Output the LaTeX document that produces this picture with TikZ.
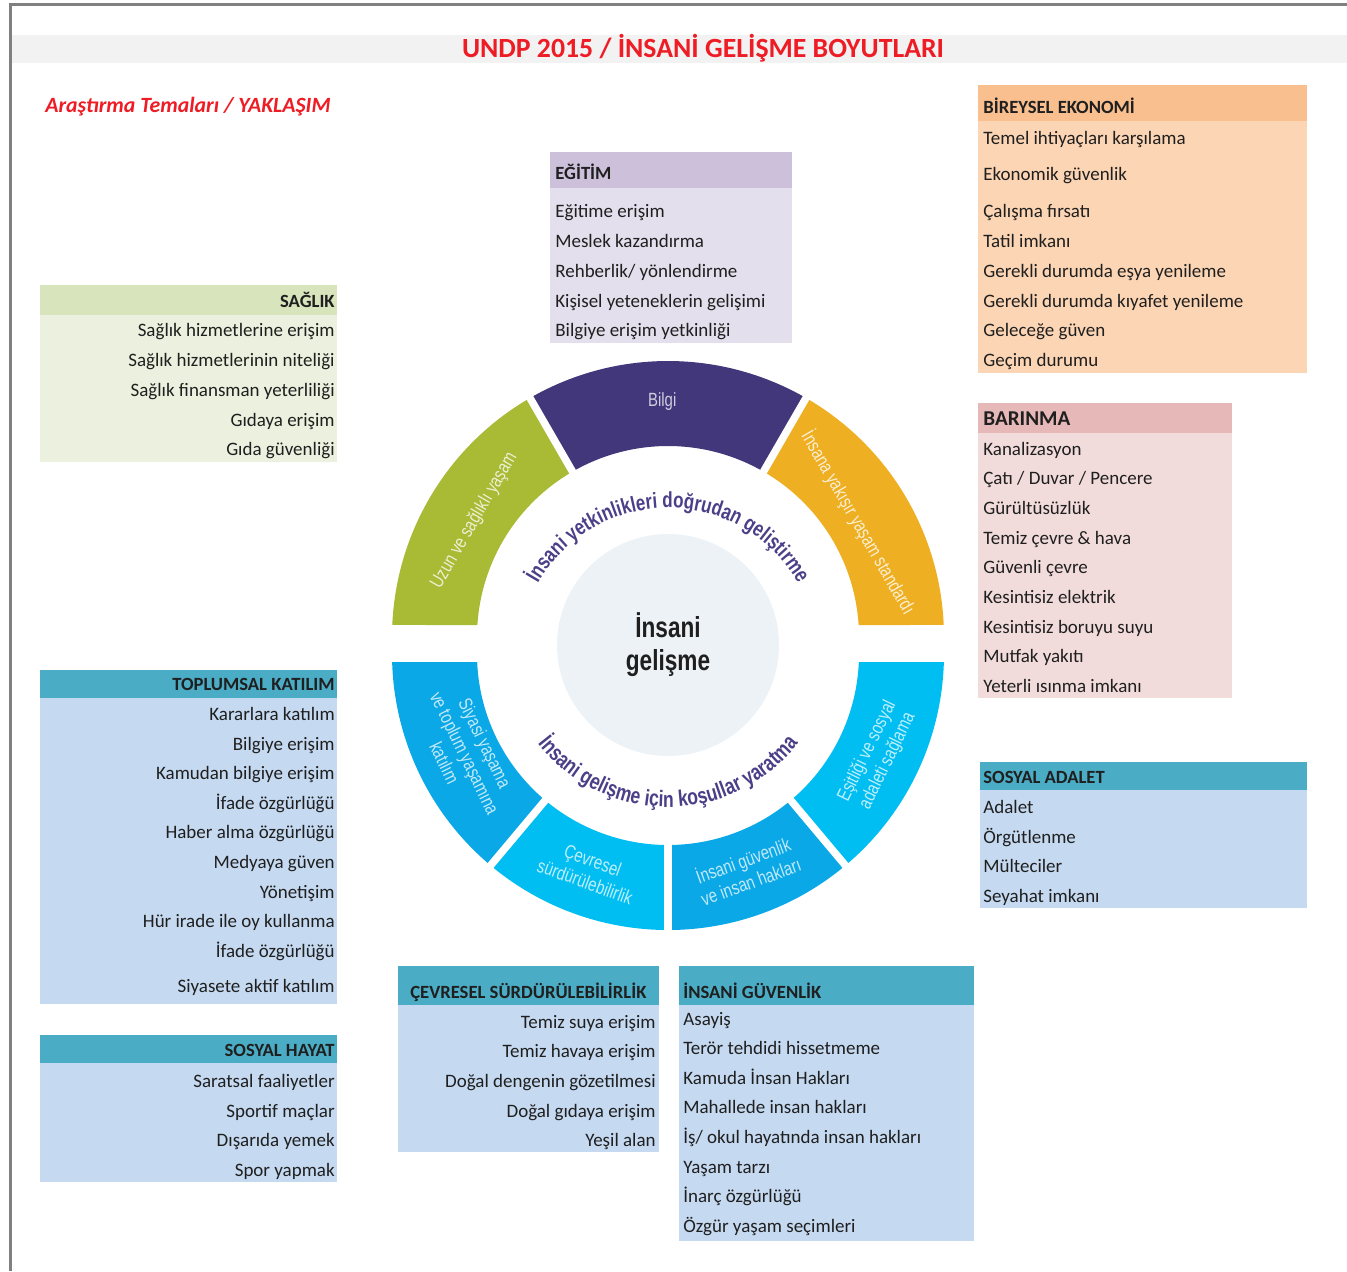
\documentclass[tikz,border=0pt]{standalone}
\usepackage{fontspec}
\setmainfont{Carlito}
\newfontfamily\ringfont[FakeStretch=0.78]{Liberation Sans}
\usepackage{tikz}
\usetikzlibrary{calc,positioning,decorations.text}

\definecolor{titlered}{HTML}{EE1C25}
\definecolor{band}{HTML}{F2F2F2}
\definecolor{ekoH}{HTML}{FABF8F}
\definecolor{ekoB}{HTML}{FCD5B4}
\definecolor{egiH}{HTML}{CCC0DA}
\definecolor{egiB}{HTML}{E4DFEC}
\definecolor{sagH}{HTML}{D8E4BC}
\definecolor{sagB}{HTML}{EBF1DE}
\definecolor{barH}{HTML}{E6B8B7}
\definecolor{barB}{HTML}{F2DCDB}
\definecolor{tealH}{HTML}{4BACC6}
\definecolor{blueB}{HTML}{C5D9F1}
\definecolor{ringgreen}{HTML}{A9BA35}
\definecolor{ringpurple}{HTML}{42377A}
\definecolor{ringorange}{HTML}{EEAF22}
\definecolor{ringblue}{HTML}{0AA8E6}
\definecolor{ringcyan}{HTML}{00BEF2}
\definecolor{corefill}{HTML}{EDF2F7}
\definecolor{arcink}{HTML}{4B3F88}

\begin{document}
\begin{tikzpicture}[
    x=0.2mm, y=0.2mm,
    itemL/.style={
        anchor=west, inner sep=0pt,
        text height=1.5ex, text depth=.25ex,
        font=\fontsize{10.8}{12}\selectfont, text=black!88},
    itemR/.style={itemL, anchor=east},
    headL/.style={itemL, font=\bfseries\fontsize{10.6}{12}\selectfont},
    headR/.style={headL, anchor=east},
    seglabel/.style={
        font=\ringfont\fontsize{10.9}{12.8}\selectfont,
        align=center, inner sep=0pt},
    gapline/.style={white, line width=1.5mm},
    corenode/.style={
        circle, fill=corefill, minimum size=44.4mm, inner sep=0pt,
        align=center, text=black!88,
        font=\ringfont\bfseries\fontsize{16.5}{18.8}\selectfont},
    sheetframe/.style={draw=black!50, line width=0.6mm},
    headline/.style={font=\bfseries\fontsize{15.8}{18}\selectfont, text=titlered}
  ]
  \useasboundingbox (0,0) rectangle (1347,-1271);
  \draw[sheetframe] (10,-1271) -- (10,-4) -- (1347,-4);
  \fill[band] (12,-35) rectangle (1347,-63);
  \node[headline] (title) at (703,-48) {UNDP 2015 / İNSANİ GELİŞME BOYUTLARI};
  \node[anchor=west, inner sep=0pt, text=titlered, font=\bfseries\itshape\fontsize{12.4}{14}\selectfont]
    (tema) at (45,-107) {Araştırma Temaları / YAKLAŞIM};

  % kutular
  \fill[ekoH] (978,-85) rectangle (1307,-121);
  \fill[ekoB] (978,-121) rectangle (1307,-373);
  \fill[egiH] (550,-152) rectangle (792,-188);
  \fill[egiB] (550,-188) rectangle (792,-343);
  \fill[sagH] (40,-285) rectangle (337,-315);
  \fill[sagB] (40,-315) rectangle (337,-462);
  \fill[barH] (978,-403) rectangle (1232,-433);
  \fill[barB] (978,-433) rectangle (1232,-698);
  \fill[tealH] (40,-670) rectangle (337,-698);
  \fill[blueB] (40,-698) rectangle (337,-1004);
  \fill[tealH] (980,-762) rectangle (1307,-790);
  \fill[blueB] (980,-790) rectangle (1307,-908);
  \fill[tealH] (40,-1035) rectangle (337,-1063);
  \fill[blueB] (40,-1063) rectangle (337,-1182);
  \fill[tealH] (398,-966) rectangle (659,-1005);
  \fill[blueB] (398,-1005) rectangle (659,-1152);
  \fill[tealH] (679,-966) rectangle (974,-1005);
  \fill[blueB] (679,-1005) rectangle (974,-1241);

  % basliklar
  \node[headL] (ekonomi) at (983,-108) {BİREYSEL EKONOMİ};
  \node[headL] (egitim) at (555,-174) {EĞİTİM};
  \node[headR] (saglik) at (335,-302) {SAĞLIK};
  \node[headL, font=\bfseries\fontsize{12}{14}\selectfont] (barinma) at (983,-420) {BARINMA};
  \node[headR] (katilim) at (335,-685) {TOPLUMSAL KATILIM};
  \node[headL] (adalet) at (983,-778) {SOSYAL ADALET};
  \node[headR] (hayat) at (335,-1051) {SOSYAL HAYAT};
  \node[headL] (cevre) at (410,-993) {ÇEVRESEL SÜRDÜRÜLEBİLİRLİK};
  \node[headL] (guvenlik) at (683,-993) {İNSANİ GÜVENLİK};

  % maddeler
  \foreach \y/\t [count=\i] in {139/Temel ihtiyaçları karşılama, 175/Ekonomik güvenlik,
      212/Çalışma fırsatı, 242/Tatil imkanı, 272/Gerekli durumda eşya yenileme,
      302/Gerekli durumda kıyafet yenileme, 331/Geleceğe güven, 361/Geçim durumu}
    \node[itemL] (ekonomi-\i) at (983,-\y) {\t};
  \foreach \y/\t [count=\i] in {212/Eğitime erişim, 242/Meslek kazandırma,
      272/{Rehberlik/ yönlendirme}, 302/Kişisel yeteneklerin gelişimi,
      331/Bilgiye erişim yetkinliği}
    \node[itemL] (egitim-\i) at (555,-\y) {\t};
  \foreach \y/\t [count=\i] in {331/Sağlık hizmetlerine erişim, 361/Sağlık hizmetlerinin niteliği,
      391/Sağlık finansman yeterliliği, 421/Gıdaya erişim, 450/Gıda güvenliği}
    \node[itemR] (saglik-\i) at (335,-\y) {\t};
  \foreach \y/\t [count=\i] in {450/Kanalizasyon, 479/{Çatı / Duvar / Pencere},
      509/Gürültüsüzlük, 539/Temiz çevre \& hava, 568/Güvenli çevre,
      598/Kesintisiz elektrik, 628/Kesintisiz boruyu suyu, 657/Mutfak yakıtı,
      687/Yeterli ısınma imkanı}
    \node[itemL] (barinma-\i) at (983,-\y) {\t};
  \foreach \y/\t [count=\i] in {715/Kararlara katılım, 745/Bilgiye erişim,
      774/Kamudan bilgiye erişim, 804/İfade özgürlüğü, 833/Haber alma özgürlüğü,
      863/Medyaya güven, 893/Yönetişim, 922/Hür irade ile oy kullanma,
      952/İfade özgürlüğü, 987/Siyasete aktif katılım}
    \node[itemR] (katilim-\i) at (335,-\y) {\t};
  \foreach \y/\t [count=\i] in {808/Adalet, 838/Örgütlenme, 867/Mülteciler, 897/Seyahat imkanı}
    \node[itemL] (adalet-\i) at (983,-\y) {\t};
  \foreach \y/\t [count=\i] in {1082/Saratsal faaliyetler, 1112/Sportif maçlar,
      1141/Dışarıda yemek, 1171/Spor yapmak}
    \node[itemR] (hayat-\i) at (335,-\y) {\t};
  \foreach \y/\t [count=\i] in {1023/Temiz suya erişim, 1052/Temiz havaya erişim,
      1082/Doğal dengenin gözetilmesi, 1112/Doğal gıdaya erişim, 1141/Yeşil alan}
    \node[itemR] (cevre-\i) at (656,-\y) {\t};
  \foreach \y/\t [count=\i] in {1020/Asayiş, 1049/Terör tehdidi hissetmeme,
      1079/Kamuda İnsan Hakları, 1108/Mahallede insan hakları,
      1138/{İş/ okul hayatında insan hakları}, 1168/Yaşam tarzı,
      1197/İnarç özgürlüğü, 1227/Özgür yaşam seçimleri}
    \node[itemL] (guvenlik-\i) at (683,-\y) {\t};

  % halka, ust yari
  \begin{scope}[shift={(668,-637)}]
    \fill[ringgreen] (177.5:276) arc[start angle=177.5, end angle=120, radius=276]
      -- (120:191) arc[start angle=120, end angle=176.4, radius=191] -- cycle;
    \fill[ringpurple] (120:276) arc[start angle=120, end angle=60, radius=276]
      -- (60:191) arc[start angle=60, end angle=120, radius=191] -- cycle;
    \fill[ringorange] (60:276) arc[start angle=60, end angle=2.5, radius=276]
      -- (3.6:191) arc[start angle=3.6, end angle=60, radius=191] -- cycle;
    \foreach \a in {60,120}
      \draw[gapline] (\a:185) -- (\a:282);
    \node[seglabel, text=white!75!ringpurple] (bilgi) at (91.4:236) {Bilgi};
    \node[seglabel, text=white!78!ringgreen, rotate=60] (uzun) at (149:226) {Uzun ve sağlıklı yaşam};
    \node[seglabel, text=white!80!ringorange, rotate=-60] (standart) at (31:222) {İnsana yakışır yaşam standardı};
  \end{scope}

  % halka, alt yari
  \begin{scope}[shift={(668,-654)}]
    \fill[ringblue] (181.7:276) arc[start angle=181.7, end angle=230, radius=276]
      -- (230:191) arc[start angle=230, end angle=182.4, radius=191] -- cycle;
    \fill[ringcyan] (230:276) arc[start angle=230, end angle=270, radius=276]
      -- (270:191) arc[start angle=270, end angle=230, radius=191] -- cycle;
    \fill[ringblue] (270:276) arc[start angle=270, end angle=310, radius=276]
      -- (310:191) arc[start angle=310, end angle=270, radius=191] -- cycle;
    \fill[ringcyan] (310:276) arc[start angle=310, end angle=358.3, radius=276]
      -- (357.6:191) arc[start angle=357.6, end angle=310, radius=191] -- cycle;
    \foreach \a in {230,270,310}
      \draw[gapline] (\a:185) -- (\a:282);
    \node[seglabel, text=white!75!ringblue, rotate=-64] (siyasi) at (206:226)
      {Siyasi yaşama\\ve toplum yaşamına\\katılım};
    \node[seglabel, text=white!75!ringcyan, rotate=-20] (cevresel) at (250:231)
      {Çevresel\\sürdürülebilirlik};
    \node[seglabel, text=white!75!ringblue, rotate=20] (insanhak) at (290:230)
      {İnsani güvenlik\\ve insan hakları};
    \node[seglabel, text=white!75!ringcyan, rotate=64] (esitlik) at (334:233)
      {Eşitliği ve sosyal\\adaleti sağlama};
  \end{scope}

  \node[corenode] (core) at (668,-645) {İnsani\\gelişme};

  \path[decorate, decoration={text along path, text align=center, text color=arcink,
      text={|\ringfont\bfseries\fontsize{12.4}{14}\selectfont|İnsani yetkinlikleri doğrudan geliştirme}}]
    (668,-658) ++(156:150) arc[start angle=156, end angle=24, radius=150];
  \path[decorate, decoration={text along path, text align=center, text color=arcink,
      text={|\ringfont\bfseries\fontsize{12.8}{14}\selectfont|İnsani gelişme için koşullar yaratma}}]
    (668,-642) ++(218:165) arc[start angle=218, end angle=322, radius=165];
\end{tikzpicture}
\end{document}
